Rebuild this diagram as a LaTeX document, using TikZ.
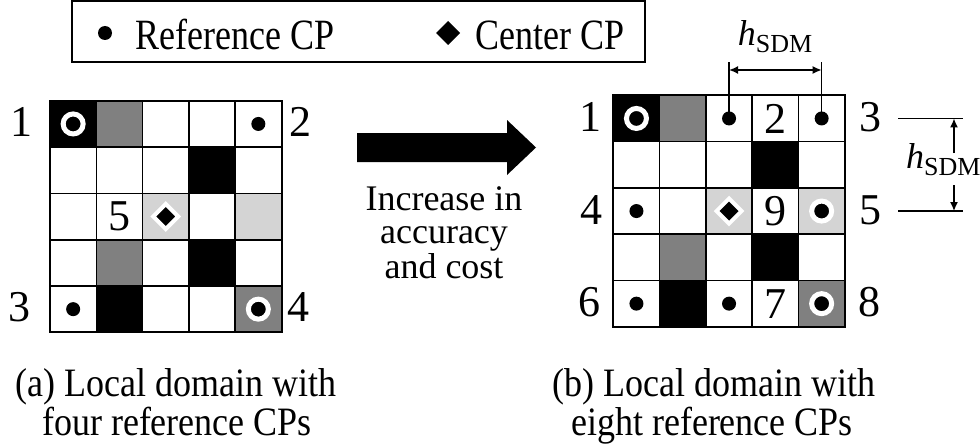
\documentclass[tikz,border=0pt]{standalone}
\usepackage{fontspec}
\setmainfont{Liberation Serif}
\usepackage{graphicx}
\usetikzlibrary{arrows.meta}
\definecolor{cpgray}{RGB}{128,128,128}
\definecolor{cplight}{RGB}{212,212,212}
\newcommand{\tallA}[1]{\scalebox{1}[1.2]{#1}}
\newcommand{\tallB}[1]{\scalebox{1}[1.12]{#1}}
\newcommand{\hsdm}{{\fontsize{36}{40}\selectfont\itshape h}\raisebox{-7pt}{\fontsize{26}{30}\selectfont SDM}}
\begin{document}
\begin{tikzpicture}[x=1pt,y=-1pt,
  txt/.style={font=\fontsize{36}{40}\selectfont, inner sep=0pt},
  num/.style={font=\fontsize{44}{48}\selectfont, inner sep=0pt},
  gline/.style={line width=1.6pt},
  dotm/.style={fill=black},
  ringm/.style={fill=black, draw=white, line width=5pt},
  centm/.style={fill=black, draw=white, line width=4pt, line join=miter},
  dimline/.style={line width=1.5pt},
  dimarrow/.style={line width=1.5pt, -{Latex[length=9pt,width=8pt]}},
  dimboth/.style={line width=1.5pt, {Latex[length=9pt,width=8pt]}-{Latex[length=9pt,width=8pt]}},
]
\useasboundingbox (0,0) rectangle (980,444);

% legend
\draw[line width=1.5pt] (72,1) rectangle (645,62);
\fill[black] (105,33) circle[radius=7pt];
\node[txt, anchor=base west] (legref) at (135,50) {\tallA{Reference CP}};
\fill[black] (436,33) -- (448,21) -- (460,33) -- (448,45) -- cycle;
\node[txt, anchor=base west] (legcen) at (475,50) {\tallA{Center CP}};

% left grid
\begin{scope}[shift={(50,100.8)}, x=46.3pt, y=-46.3pt]
  \fill[black] (0,0) rectangle (1,1);
  \fill[cpgray] (1,0) rectangle (2,1);
  \fill[black] (3,1) rectangle (4,2);
  \fill[cplight] (2,2) rectangle (3,3);
  \fill[cplight] (4,2) rectangle (5,3);
  \fill[cpgray] (1,3) rectangle (2,4);
  \fill[black] (3,3) rectangle (4,4);
  \fill[black] (1,4) rectangle (2,5);
  \fill[cpgray] (4,4) rectangle (5,5);
  \foreach \i in {1,...,4} {
    \draw[gline] (\i,0) -- (\i,5);
    \draw[gline] (0,\i) -- (5,\i);
  }
  \draw[line width=2pt] (0,0) rectangle (5,5);
  \path[ringm] (0.5,0.5) circle[radius=10pt];
  \path[dotm] (4.5,0.5) circle[radius=7pt];
  \path[dotm] (0.5,4.5) circle[radius=7pt];
  \path[ringm] (4.5,4.5) circle[radius=10pt];
  \path[centm] (2.5,2.5) ++(-12.5pt,0pt) -- ++(12.5pt,12.5pt) -- ++(12.5pt,-12.5pt) -- ++(-12.5pt,-12.5pt) -- cycle;
  \node[num] (L5) at (1.5,2.5) {5};
\end{scope}
\node[num] (L1) at (21,122) {1};
\node[num] (L2) at (300,122) {2};
\node[num] (L3) at (20,307) {3};
\node[num] (L4) at (298,307) {4};

% big arrow
\fill[black] (357,133) -- (507,133) -- (507,120) -- (536,147.5) -- (507,175) -- (507,162) -- (357,162) -- cycle;
\node[txt, anchor=base] (m1) at (444,210) {Increase in};
\node[txt, anchor=base] (m2) at (444,243) {accuracy};
\node[txt, anchor=base] (m3) at (444,278) {and cost};

% right grid
\begin{scope}[shift={(613.3,95.3)}, x=46.3pt, y=-46.3pt]
  \fill[black] (0,0) rectangle (1,1);
  \fill[cpgray] (1,0) rectangle (2,1);
  \fill[black] (3,1) rectangle (4,2);
  \fill[cplight] (2,2) rectangle (3,3);
  \fill[cplight] (4,2) rectangle (5,3);
  \fill[cpgray] (1,3) rectangle (2,4);
  \fill[black] (3,3) rectangle (4,4);
  \fill[black] (1,4) rectangle (2,5);
  \fill[cpgray] (4,4) rectangle (5,5);
  \foreach \i in {1,...,4} {
    \draw[gline] (\i,0) -- (\i,5);
    \draw[gline] (0,\i) -- (5,\i);
  }
  \draw[line width=2pt] (0,0) rectangle (5,5);
  \coordinate (Ra) at (2.5,0.5);
  \coordinate (Rb) at (4.5,0.5);
  \coordinate (Rr1) at (5,0.5);
  \coordinate (Rr3) at (5,2.5);
  \path[ringm] (0.5,0.5) circle[radius=10pt];
  \path[dotm] (Ra) circle[radius=7pt];
  \path[dotm] (Rb) circle[radius=7pt];
  \path[dotm] (0.5,2.5) circle[radius=7pt];
  \path[ringm] (4.5,2.5) circle[radius=10pt];
  \path[dotm] (0.5,4.5) circle[radius=7pt];
  \path[dotm] (2.5,4.5) circle[radius=7pt];
  \path[ringm] (4.5,4.5) circle[radius=10pt];
  \path[centm] (2.5,2.5) ++(-12.5pt,0pt) -- ++(12.5pt,12.5pt) -- ++(12.5pt,-12.5pt) -- ++(-12.5pt,-12.5pt) -- cycle;
  \node[num] (R2) at (3.5,0.5) {2};
  \node[num] (R9) at (3.5,2.5) {9};
  \node[num] (R7) at (3.5,4.5) {7};
\end{scope}
\node[num] (Q1) at (590,117) {1};
\node[num] (Q3) at (870,117) {3};
\node[num] (Q4) at (591,210) {4};
\node[num] (Q5) at (870,210) {5};
\node[num] (Q6) at (589,302) {6};
\node[num] (Q8) at (869,302) {8};

% top dimension
\coordinate (topA) at (729,62);
\coordinate (topB) at (822,62);
\draw[dimline] (Ra) -- (Ra |- topA);
\draw[dimline] (Rb) -- (Rb |- topB);
\coordinate (arrA) at (729,70);
\draw[dimboth] (Ra |- arrA) -- (Rb |- arrA);
\node[inner sep=0pt, anchor=base] (htop) at (775,46) {\hsdm};

% right dimension
\coordinate (hl1a) at (898,0);
\coordinate (hl1b) at (963,0);
\draw[dimline] (Rr1 -| hl1a) -- (Rr1 -| hl1b);
\draw[dimline] (Rr3 -| hl1a) -- (Rr3 -| hl1b);
\coordinate (va) at (954,153);
\coordinate (vb) at (954,185);
\draw[dimarrow] (va) -- (va |- Rr1);
\draw[dimarrow] (vb) -- (vb |- Rr3);
\node[inner sep=0pt, anchor=base west] (hright) at (906,168) {\hsdm};

% captions
\node[txt, anchor=base] (ca1) at (176,396) {\tallB{(a) Local domain with}};
\node[txt, anchor=base] (ca2) at (177,435) {\tallB{four reference CPs}};
\node[txt, anchor=base] (cb1) at (714,396) {\tallB{(b) Local domain with}};
\node[txt, anchor=base] (cb2) at (712,435) {\tallB{eight reference CPs}};
\end{tikzpicture}
\end{document}
